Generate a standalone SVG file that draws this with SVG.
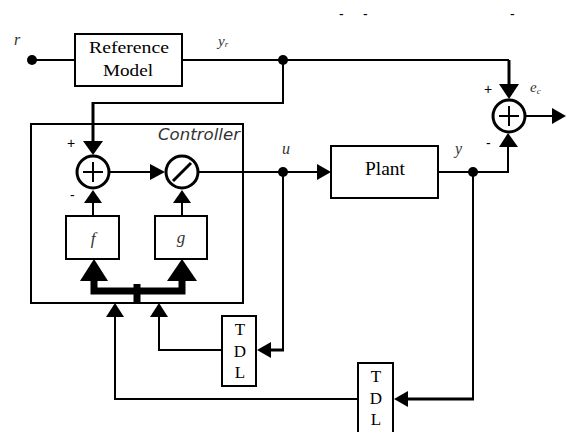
<svg xmlns="http://www.w3.org/2000/svg" width="566" height="432" viewBox="0 0 566 432">
<style>
.box{fill:#fff;stroke:#000;stroke-width:2}
.ln{fill:none;stroke:#000;stroke-width:2}
.thk{fill:none;stroke:#000;stroke-width:3}
.bus{fill:none;stroke:#000;stroke-width:7}
.ah{fill:#000}
.dot{fill:#000}
.circ{fill:#fff;stroke:#000;stroke-width:3}
.sym{fill:none;stroke:#000;stroke-width:2}
.serif{font-family:"Liberation Serif","DejaVu Serif",serif;fill:#000}
.it{font-family:"Liberation Serif","DejaVu Serif",serif;font-style:italic;fill:#333}
.sans{font-family:"DejaVu Sans","Liberation Sans",sans-serif;font-style:italic;fill:#333}
.sm{font-family:"Liberation Sans",sans-serif;font-size:14px;fill:#000}
</style>
<rect width="566" height="432" fill="#fff"/>
<g id="controller">
<rect class="box" x="31" y="124" width="212" height="179"/>
<text class="sans" x="158" y="140" font-size="15" textLength="82" lengthAdjust="spacingAndGlyphs">Controller</text>
</g>
<g id="connectors">
<line class="ln" x1="32" y1="60" x2="75" y2="60"/>
<line class="ln" x1="182" y1="60" x2="509" y2="60"/>
<line class="thk" x1="509" y1="60" x2="509" y2="84"/>
<polyline class="ln" points="283,60 283,103 93,103"/>
<line class="thk" x1="93" y1="102" x2="93" y2="142"/>
<line class="ln" x1="110" y1="172" x2="151" y2="172"/>
<line class="ln" x1="93" y1="216" x2="93" y2="203"/>
<line class="ln" x1="182" y1="216" x2="182" y2="203"/>
<line class="ln" x1="199" y1="172" x2="318" y2="172"/>
<line class="ln" x1="438" y1="172" x2="508" y2="172"/>
<line class="ln" x1="508" y1="173" x2="508" y2="146"/>
<line class="ln" x1="526" y1="116" x2="553" y2="116"/>
<polyline class="bus" points="94,280 94,291 182,291 182,280"/>
<line class="bus" x1="137" y1="284" x2="137" y2="303"/>
<line class="ln" x1="283" y1="172" x2="283" y2="350"/>
<line class="thk" x1="284" y1="350" x2="270" y2="350"/>
<polyline class="ln" points="222,350 159,350 159,316"/>
<line class="ln" x1="473" y1="172" x2="473" y2="399"/>
<line class="thk" x1="474" y1="399" x2="407" y2="399"/>
<polyline class="ln" points="358,399 115,399 115,316"/>
<polygon class="ah" points="499,84 519,84 509,99"/>
<polygon class="ah" points="499,147 518,147 508,133"/>
<polygon class="ah" points="552,108 552,124 566,116"/>
<polygon class="ah" points="83,141 103,141 93,155"/>
<polygon class="ah" points="84,203 102,203 93,190"/>
<polygon class="ah" points="150,164 150,180 165,172"/>
<polygon class="ah" points="173,203 191,203 182,190"/>
<polygon class="ah" points="317,164 317,180 331,172"/>
<polygon class="ah" points="80,281 108,281 94,259"/>
<polygon class="ah" points="167,281 197,281 182,259"/>
<polygon class="ah" points="106,317 124,317 115,303"/>
<polygon class="ah" points="150,317 168,317 159,303"/>
<polygon class="ah" points="271,342 271,358 257,350"/>
<polygon class="ah" points="408,391 408,407 394,399"/>
<circle class="dot" cx="32" cy="60" r="5"/>
<circle class="dot" cx="283" cy="60" r="5"/>
<circle class="dot" cx="283" cy="172" r="5"/>
<circle class="dot" cx="473" cy="172" r="5"/>
</g>
<g id="refmodel">
<rect class="box" x="75" y="34" width="107" height="52"/>
<text class="serif" x="129" y="53" font-size="16" text-anchor="middle" textLength="80" lengthAdjust="spacingAndGlyphs">Reference</text>
<text class="serif" x="128" y="76" font-size="16" text-anchor="middle" textLength="50" lengthAdjust="spacingAndGlyphs">Model</text>
</g>
<g id="sum1">
<circle class="circ" cx="93" cy="172" r="16"/>
<path class="sym" d="M83 172H103M93 162V182"/>
</g>
<g id="divide">
<circle class="circ" cx="182" cy="172" r="16"/>
<line x1="173" y1="181" x2="191" y2="163" stroke="#000" stroke-width="3"/>
</g>
<g id="f">
<rect class="box" x="66" y="216" width="53" height="43"/>
<text class="it" x="93" y="244" font-size="17" text-anchor="middle">f</text>
</g>
<g id="g">
<rect class="box" x="155" y="216" width="52" height="43"/>
<text class="it" x="181" y="243" font-size="17" text-anchor="middle">g</text>
</g>
<g id="plant">
<rect class="box" x="331" y="146" width="107" height="52"/>
<text class="serif" x="385" y="175" font-size="18" text-anchor="middle" textLength="40" lengthAdjust="spacingAndGlyphs">Plant</text>
</g>
<g id="sum2">
<circle class="circ" cx="509" cy="116" r="16"/>
<path class="sym" d="M499 116H519M509 106V126"/>
</g>
<g id="tdl1">
<rect class="box" x="222" y="316" width="34" height="70"/>
<text class="serif" x="240" y="335" font-size="17" text-anchor="middle">T</text>
<text class="serif" x="240" y="357" font-size="17" text-anchor="middle">D</text>
<text class="serif" x="240" y="378" font-size="17" text-anchor="middle">L</text>
</g>
<g id="tdl2">
<rect class="box" x="358" y="363" width="35" height="70"/>
<text class="serif" x="376" y="382" font-size="17" text-anchor="middle">T</text>
<text class="serif" x="376" y="404" font-size="17" text-anchor="middle">D</text>
<text class="serif" x="376" y="425" font-size="17" text-anchor="middle">L</text>
</g>
<g id="labels">
<text class="it" x="14" y="45" font-size="16">r</text>
<text class="it" x="218" y="46" font-size="15">y<tspan font-size="9" dy="1">r</tspan></text>
<text class="it" x="282" y="154" font-size="16">u</text>
<text class="it" x="455" y="154" font-size="16">y</text>
<text class="it" x="530" y="92" font-size="15">e<tspan font-size="9" dy="2">c</tspan></text>
<text class="sm" x="67" y="148">+</text>
<text class="sm" x="70" y="200">-</text>
<text class="sm" x="484" y="94">+</text>
<text class="sm" x="486" y="148">-</text>
<text class="sm" x="339" y="19" font-size="12">-</text>
<text class="sm" x="363" y="19" font-size="12">-</text>
<text class="sm" x="510" y="19" font-size="12">-</text>
</g>
</svg>
